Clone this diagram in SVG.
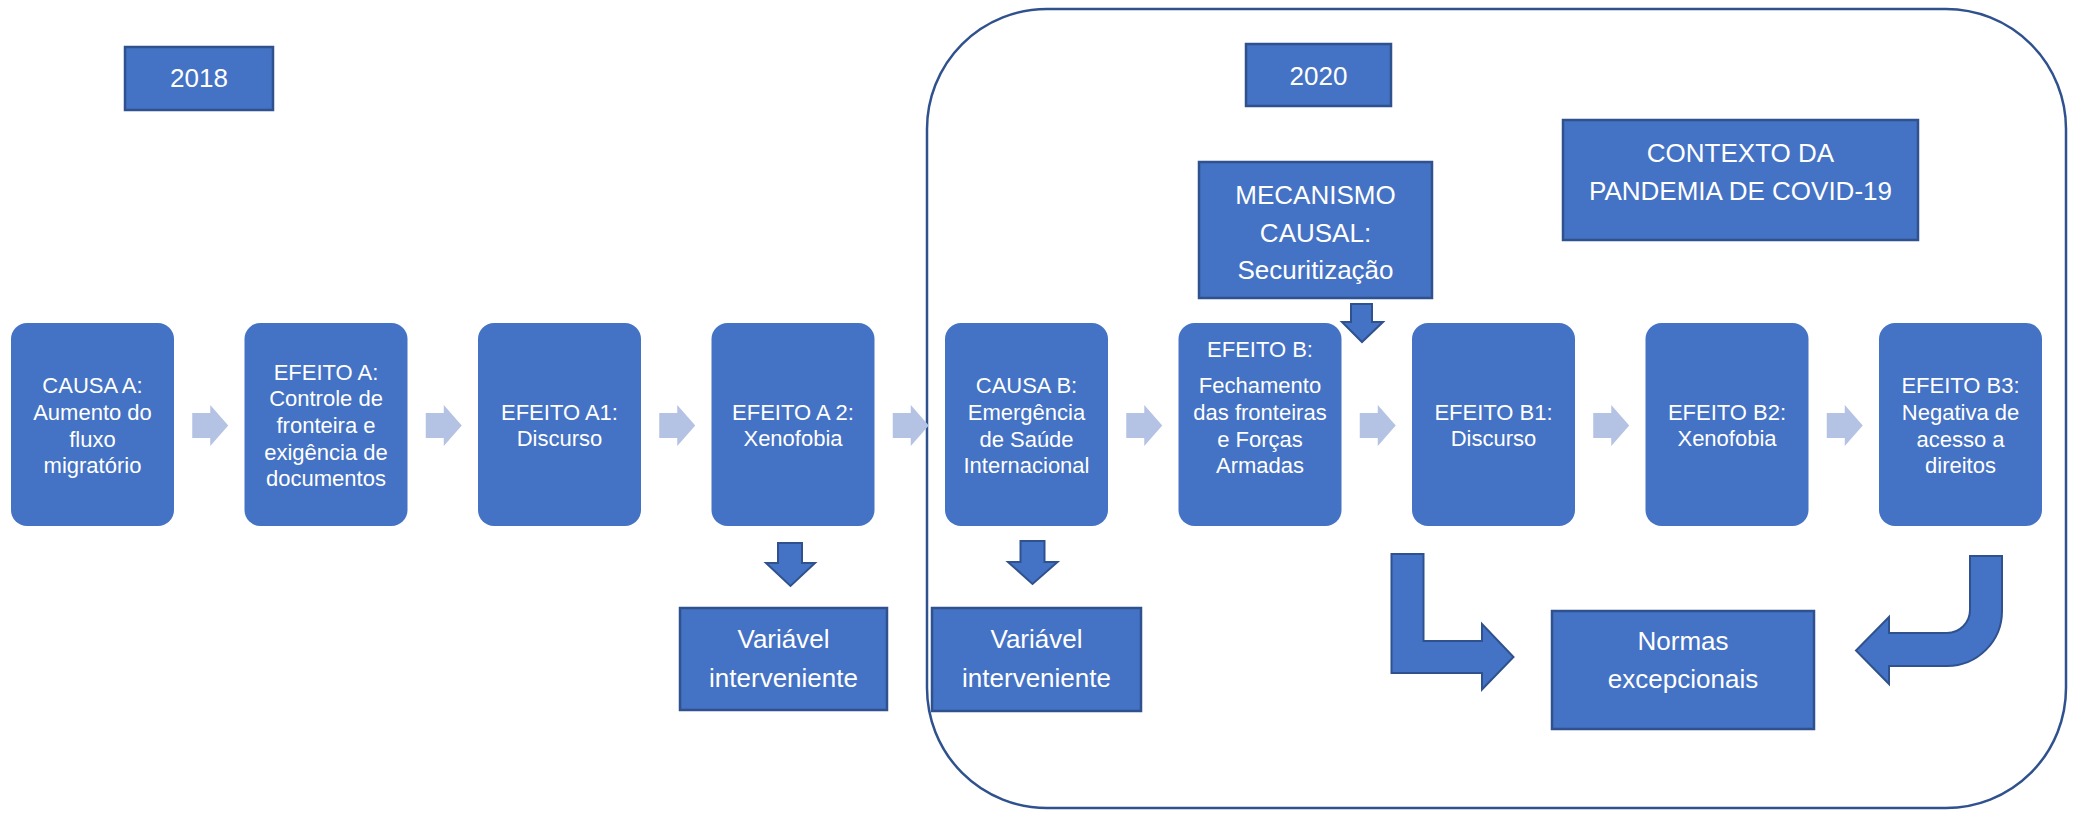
<svg xmlns="http://www.w3.org/2000/svg" width="2078" height="814" viewBox="0 0 2078 814">
<style>
.rb{fill:#4472C4}
.bx{fill:#4472C4;stroke:#2F528F;stroke-width:2.5}
.t{font-family:"Liberation Sans",Arial,sans-serif;fill:#FFFFFF;text-anchor:middle}
.s{font-size:22px}
.b{font-size:26px}
.la{fill:#B4C3E4}
.da{fill:#4472C4;stroke:#2F528F;stroke-width:2;stroke-linejoin:miter}
.frame{fill:none;stroke:#2F528F;stroke-width:2.5}
</style>
<defs>
<path id="la" d="M-17,-12.5 H1 V-20.5 L19,0 L1,20.5 V12.5 H-17 Z"/>
</defs>
<rect class="frame" x="927" y="9" width="1139" height="799" rx="120" ry="120"/>
<g id="connectors">
<use href="#la" class="la" transform="translate(209.25,425.5)"/>
<use href="#la" class="la" transform="translate(442.75,425.5)"/>
<use href="#la" class="la" transform="translate(676.25,425.5)"/>
<use href="#la" class="la" transform="translate(909.75,425.5)"/>
<use href="#la" class="la" transform="translate(1143.25,425.5)"/>
<use href="#la" class="la" transform="translate(1376.75,425.5)"/>
<use href="#la" class="la" transform="translate(1610.25,425.5)"/>
<use href="#la" class="la" transform="translate(1843.75,425.5)"/>
<path class="da" d="M778,543 H802 V563 H815 L790.5,586 L766,563 H778 Z"/>
<path class="da" d="M1020.5,541 H1044.5 V562 H1057.5 L1032.5,584 L1008,562 H1020.5 Z"/>
<path class="da" d="M1351,304 H1372 V322 H1383 L1362,342 L1342,322 H1351 Z"/>
<path class="da" d="M1391.5,554 H1423.5 V641 H1482 V624 L1513.5,657 L1482,689.5 V673 H1391.5 Z"/>
<path class="da" d="M1970,556 H2002 V611 A55,55 0 0 1 1947,666 H1889 V684 L1856,650.5 L1889,617 V633 H1947 A23,23 0 0 0 1970,610 Z"/>
</g>
<g id="y2018">
<rect class="bx" x="125" y="47" width="148" height="63"/>
<text class="t b" x="199" y="86.5">2018</text>
</g>
<g id="y2020">
<rect class="bx" x="1246" y="44" width="145" height="62"/>
<text class="t b" x="1318.5" y="85">2020</text>
</g>
<g id="contexto">
<rect class="bx" x="1563" y="120" width="355" height="120"/>
<text class="t b"><tspan x="1740.5" y="162">CONTEXTO DA</tspan><tspan x="1740.5" y="200">PANDEMIA DE COVID-19</tspan></text>
</g>
<g id="mecanismo">
<rect class="bx" x="1199" y="162" width="233" height="136"/>
<text class="t b"><tspan x="1315.5" y="203.5">MECANISMO</tspan><tspan x="1315.5" y="241.5">CAUSAL:</tspan><tspan x="1315.5" y="279">Securitização</tspan></text>
</g>
<g id="causaA">
<rect class="rb" x="11" y="323" width="163" height="203" rx="16"/>
<text class="t s"><tspan x="92.5" y="393.3">CAUSA A:</tspan><tspan x="92.5" y="420">Aumento do</tspan><tspan x="92.5" y="446.7">fluxo</tspan><tspan x="92.5" y="473.3">migratório</tspan></text>
</g>
<g id="efeitoA">
<rect class="rb" x="244.5" y="323" width="163" height="203" rx="16"/>
<text class="t s"><tspan x="326" y="379.6">EFEITO A:</tspan><tspan x="326" y="406.3">Controle de</tspan><tspan x="326" y="433">fronteira e</tspan><tspan x="326" y="459.7">exigência de</tspan><tspan x="326" y="486.4">documentos</tspan></text>
</g>
<g id="efeitoA1">
<rect class="rb" x="478" y="323" width="163" height="203" rx="16"/>
<text class="t s"><tspan x="559.5" y="419.6">EFEITO A1:</tspan><tspan x="559.5" y="446.3">Discurso</tspan></text>
</g>
<g id="efeitoA2">
<rect class="rb" x="711.5" y="323" width="163" height="203" rx="16"/>
<text class="t s"><tspan x="793" y="419.6">EFEITO A 2:</tspan><tspan x="793" y="446.3">Xenofobia</tspan></text>
</g>
<g id="causaB">
<rect class="rb" x="945" y="323" width="163" height="203" rx="16"/>
<text class="t s"><tspan x="1026.5" y="393.3">CAUSA B:</tspan><tspan x="1026.5" y="420">Emergência</tspan><tspan x="1026.5" y="446.7">de Saúde</tspan><tspan x="1026.5" y="473.3">Internacional</tspan></text>
</g>
<g id="efeitoB">
<rect class="rb" x="1178.5" y="323" width="163" height="203" rx="16"/>
<text class="t s"><tspan x="1260" y="356.7">EFEITO B:</tspan><tspan x="1260" y="393.3">Fechamento</tspan><tspan x="1260" y="420">das fronteiras</tspan><tspan x="1260" y="446.7">e Forças</tspan><tspan x="1260" y="473.3">Armadas</tspan></text>
</g>
<g id="efeitoB1">
<rect class="rb" x="1412" y="323" width="163" height="203" rx="16"/>
<text class="t s"><tspan x="1493.5" y="419.6">EFEITO B1:</tspan><tspan x="1493.5" y="446.3">Discurso</tspan></text>
</g>
<g id="efeitoB2">
<rect class="rb" x="1645.5" y="323" width="163" height="203" rx="16"/>
<text class="t s"><tspan x="1727" y="419.6">EFEITO B2:</tspan><tspan x="1727" y="446.3">Xenofobia</tspan></text>
</g>
<g id="efeitoB3">
<rect class="rb" x="1879" y="323" width="163" height="203" rx="16"/>
<text class="t s"><tspan x="1960.5" y="393.3">EFEITO B3:</tspan><tspan x="1960.5" y="420">Negativa de</tspan><tspan x="1960.5" y="446.7">acesso a</tspan><tspan x="1960.5" y="473.3">direitos</tspan></text>
</g>
<g id="variavel1">
<rect class="bx" x="680" y="608" width="207" height="102"/>
<text class="t b"><tspan x="783.5" y="648.3">Variável</tspan><tspan x="783.5" y="686.7">interveniente</tspan></text>
</g>
<g id="variavel2">
<rect class="bx" x="932" y="608" width="209" height="103"/>
<text class="t b"><tspan x="1036.5" y="648.3">Variável</tspan><tspan x="1036.5" y="686.7">interveniente</tspan></text>
</g>
<g id="normas">
<rect class="bx" x="1552" y="611" width="262" height="118"/>
<text class="t b"><tspan x="1683" y="650">Normas</tspan><tspan x="1683" y="688.3">excepcionais</tspan></text>
</g>
</svg>
